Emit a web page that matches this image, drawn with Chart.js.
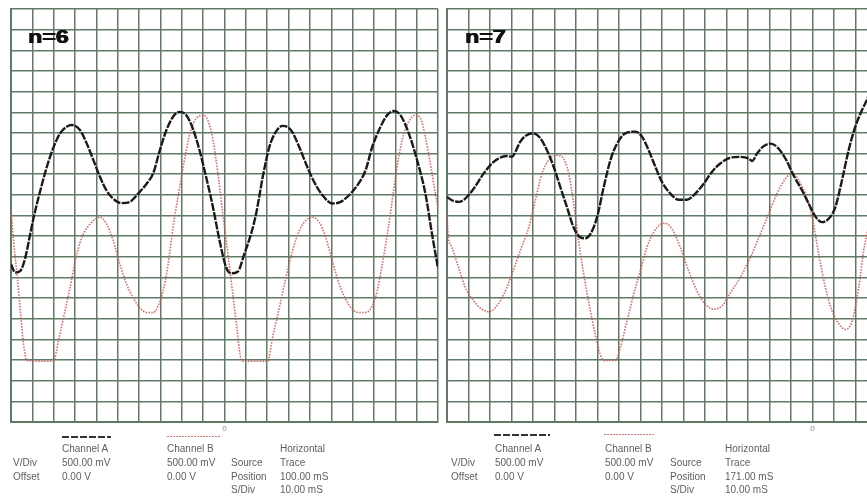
<!DOCTYPE html>
<html>
<head>
<meta charset="utf-8">
<script src="https://cdn.jsdelivr.net/npm/chart.js@4.4.1/dist/chart.umd.min.js"></script>
<style>
  html, body { margin: 0; padding: 0; background: #fff; }
  body { width: 867px; height: 503px; overflow: hidden; position: relative;
         font-family: "Liberation Sans", Arial, sans-serif; }
  canvas { position: absolute; top: 0; }
  .tag { position: absolute; font-weight: bold; font-size: 19px; line-height: 19px; color: #111;
         text-shadow: 0.6px 0 0 #111, -0.3px 0 0 #111;
         transform: scaleX(1.22); transform-origin: 0 0; white-space: nowrap; }
  .info { position: absolute; font-size: 10px; line-height: 10px; color: #5e5e5e; white-space: nowrap; }
  .keyA { position: absolute; height: 2px;
          background: repeating-linear-gradient(to right, #333 0 7px, transparent 7px 9px); }
  .keyB { position: absolute; height: 1px;
          background: repeating-linear-gradient(to right, #d77 0 2px, transparent 2px 3px); }
</style>
</head>
<body>
<canvas id="scope6" width="446" height="440" style="left:0"></canvas>
<canvas id="scope7" width="446" height="440" style="left:436px"></canvas>

<div class="tag" style="left:28px;top:27px">n=6</div>
<div class="tag" style="left:465px;top:27px">n=7</div>

<!-- settings block, n=6 capture -->
<div class="keyA" style="left:62px;top:436px;width:49px"></div>
<div class="keyB" style="left:167px;top:436px;width:54px"></div>
<span class="info" style="left:62px;top:444px">Channel A</span>
<span class="info" style="left:167px;top:444px">Channel B</span>
<span class="info" style="left:280px;top:444px">Horizontal</span>
<span class="info" style="left:13px;top:458px">V/Div</span>
<span class="info" style="left:62px;top:458px">500.00 mV</span>
<span class="info" style="left:167px;top:458px">500.00 mV</span>
<span class="info" style="left:231px;top:458px">Source</span>
<span class="info" style="left:280px;top:458px">Trace</span>
<span class="info" style="left:13px;top:472px">Offset</span>
<span class="info" style="left:62px;top:472px">0.00 V</span>
<span class="info" style="left:167px;top:472px">0.00 V</span>
<span class="info" style="left:231px;top:472px">Position</span>
<span class="info" style="left:280px;top:472px">100.00 mS</span>
<span class="info" style="left:231px;top:485px">S/Div</span>
<span class="info" style="left:280px;top:485px">10.00 mS</span>

<!-- settings block, n=7 capture -->
<div class="keyA" style="left:494px;top:434px;width:56px"></div>
<div class="keyB" style="left:604px;top:434px;width:50px"></div>
<span class="info" style="left:495px;top:444px">Channel A</span>
<span class="info" style="left:605px;top:444px">Channel B</span>
<span class="info" style="left:725px;top:444px">Horizontal</span>
<span class="info" style="left:451px;top:458px">V/Div</span>
<span class="info" style="left:495px;top:458px">500.00 mV</span>
<span class="info" style="left:605px;top:458px">500.00 mV</span>
<span class="info" style="left:670px;top:458px">Source</span>
<span class="info" style="left:725px;top:458px">Trace</span>
<span class="info" style="left:451px;top:472px">Offset</span>
<span class="info" style="left:495px;top:472px">0.00 V</span>
<span class="info" style="left:605px;top:472px">0.00 V</span>
<span class="info" style="left:670px;top:472px">Position</span>
<span class="info" style="left:725px;top:472px">171.00 mS</span>
<span class="info" style="left:670px;top:485px">S/Div</span>
<span class="info" style="left:725px;top:485px">10.00 mS</span>

<script>
// Times in ms relative to the trigger marker "0", amplitudes in volts (500 mV/div, 0 V offset).

// n=6 capture, 100 ms position
const t6A = [-100,-98,-95.6,-93.3,-91,-89.4,-86.3,-83.2,-80.1,-77,-73.9,-71.5,-67.7,-64.5,-61.4,-58.3,-55.2,-51.3,-48.2,-44.3,-40.4,-36.5,-33.4,-30.3,-27.2,-24.1,-21,-17.9,-14.8,-11.7,-8.6,-5.4,-2.3,0.8,3.1,6.2,9.3,12.4,14.8,17.9,21,24.1,27.2,31.1,35,38.1,42,45.9,50.5,54.4,58.3,62.2,66.1,69.2,73.1,76.2,79.3,82.4,86.3,90.2,94.1,97.2,100];
const v6A = [-1.18,-1.38,-1.34,-1.02,-0.45,-0.05,0.6,1.18,1.65,1.99,2.15,2.19,2.07,1.74,1.34,0.93,0.6,0.37,0.3,0.33,0.53,0.77,1.02,1.58,2.07,2.39,2.51,2.43,2.1,1.58,0.93,0.2,-0.61,-1.26,-1.4,-1.36,-0.93,-0.45,0.04,0.93,1.66,2.03,2.17,2.07,1.66,1.26,0.81,0.49,0.29,0.33,0.49,0.73,1.1,1.66,2.15,2.43,2.53,2.43,1.99,1.34,0.53,-0.45,-1.28];
const t6B = [-100,-98.8,-97.2,-95.6,-94.1,-92.5,-80.1,-77.8,-75.4,-72.3,-69.2,-66.1,-63,-58.3,-55.2,-52.1,-49,-45.9,-42.8,-39.7,-36.5,-33.4,-31.1,-28.8,-26.4,-24.1,-21,-17.9,-15.6,-13.2,-10.1,-7.8,-5.4,-3.1,-0.8,1.6,3.9,5.8,7.3,8.6,20.2,22.5,25.7,28.8,31.9,35,38.1,41.2,44.3,47.4,50.5,53.7,56.8,59.9,63,66.1,69.2,71.5,73.9,77,80.1,83.2,86.3,89.4,91.8,94.1,96.4,98.8,100];
const v6B = [0.12,-0.61,-1.42,-2.31,-3.12,-3.51,-3.53,-3.04,-2.47,-1.74,-0.93,-0.45,-0.21,-0.04,-0.21,-0.61,-1.18,-1.66,-1.99,-2.23,-2.35,-2.35,-2.19,-1.83,-1.18,-0.29,0.69,1.58,2.1,2.35,2.43,2.31,1.83,1.02,0.04,-0.93,-1.91,-2.72,-3.37,-3.53,-3.53,-2.96,-2.23,-1.5,-0.85,-0.37,-0.12,-0.04,-0.16,-0.53,-1.1,-1.66,-2.03,-2.27,-2.35,-2.35,-2.19,-1.83,-1.18,-0.21,0.93,1.83,2.27,2.43,2.35,1.91,1.26,0.53,0.2];

// n=7 capture, 171 ms position
const t7A = [-170,-167.7,-164.6,-161.5,-157.6,-152.9,-148.3,-144.4,-142.1,-139.8,-138.2,-135.9,-132.8,-130,-126.6,-123.5,-120.4,-117.3,-114.2,-111.1,-108,-105.7,-103.3,-100.2,-97.1,-94,-90.9,-87.1,-82.4,-79.3,-76.2,-73.1,-70,-66.1,-62.2,-58.4,-54.5,-50.6,-46.7,-42.9,-38.2,-33.6,-29.7,-28.1,-25.8,-22.7,-19.6,-16.5,-12.6,-8.8,-4.9,-1.8,1.3,4.4,7.5,10.6,13.7,16.8,19.9,23,25.3,28];
const v7A = [0.45,0.37,0.33,0.41,0.65,1.02,1.3,1.42,1.44,1.42,1.54,1.79,1.95,1.99,1.87,1.58,1.18,0.69,0.2,-0.29,-0.53,-0.55,-0.45,-0.04,0.69,1.34,1.74,1.99,2.03,1.91,1.58,1.18,0.81,0.53,0.38,0.38,0.53,0.77,1.06,1.26,1.4,1.42,1.38,1.32,1.5,1.68,1.74,1.66,1.38,0.97,0.61,0.29,-0.02,-0.16,-0.08,0.2,0.85,1.58,2.15,2.55,2.8,3.15];
const t7B = [-170,-169.5,-167.7,-164.6,-161.5,-157.6,-153.7,-150.6,-147.5,-143.6,-139.8,-135.9,-132,-128.9,-125.8,-122.7,-119.6,-116.5,-113.4,-111.1,-108.8,-106.4,-103.3,-101,-98.7,-97.1,-91.7,-89.4,-86.3,-83.2,-80.1,-77,-73.9,-70.8,-68.4,-65.3,-61.5,-57.6,-53.7,-49.8,-46,-42.1,-38.2,-33.6,-28.9,-24.3,-20.4,-16.5,-12.6,-9.5,-6.4,-3.3,-0.2,2.9,6,9.1,12.2,15.3,18.4,21.5,23.8,25.3,28];
const v7B = [0.05,-0.45,-0.77,-1.26,-1.74,-2.07,-2.27,-2.33,-2.23,-1.91,-1.42,-0.85,-0.29,0.37,1.02,1.34,1.46,1.42,1.02,0.29,-0.61,-1.42,-2.31,-2.88,-3.37,-3.51,-3.51,-3.2,-2.56,-1.91,-1.34,-0.77,-0.41,-0.22,-0.19,-0.33,-0.77,-1.34,-1.83,-2.15,-2.27,-2.19,-1.87,-1.5,-1.02,-0.45,0.04,0.53,0.89,1.02,0.85,0.53,-0.04,-0.93,-1.74,-2.31,-2.62,-2.76,-2.56,-1.74,-0.85,-0.45,0.3];

// screen window: 20 horizontal divisions of 10 ms, 20 vertical divisions of 0.5 V
const window6 = [-100, 100];
const window7 = [-170, 30];
const voltWindow = [-5, 5];
const msPerDiv = 10;
const voltPerDiv = 0.5;

const GRID = '#5f7a66';

function toPoints(t, v) {
  return t.map((x, i) => ({ x: x, y: v[i] }));
}

function drawScope(id, tA, vA, tB, vB, win, padRight) {
  new Chart(document.getElementById(id), {
    type: 'scatter',
    data: {
      datasets: [
        {
          label: 'Channel A',
          data: toPoints(tA, vA),
          showLine: true,
          borderColor: '#1a1a1a',
          borderWidth: 2.4,
          borderDash: [8, 1.3],
          pointRadius: 0,
          cubicInterpolationMode: 'monotone'
        },
        {
          label: 'Channel B',
          data: toPoints(tB, vB),
          showLine: true,
          borderColor: 'rgba(210, 85, 85, 0.85)',
          borderWidth: 1.6,
          borderDash: [1.6, 1.3],
          pointRadius: 0,
          cubicInterpolationMode: 'monotone'
        }
      ]
    },
    options: {
      responsive: false,
      animation: false,
      devicePixelRatio: 1,
      layout: { padding: { left: 11, top: 9, right: padRight, bottom: 4 } },
      plugins: { legend: { display: false }, tooltip: { enabled: false } },
      scales: {
        x: {
          type: 'linear',
          min: win[0],
          max: win[1],
          afterFit: s => { s.height = 14; },
          ticks: {
            stepSize: msPerDiv,
            autoSkip: false,
            maxRotation: 0,
            padding: 2,
            color: '#888',
            font: { size: 8, family: 'Liberation Sans' },
            callback: v => (Math.abs(v) < 1e-6 ? '0' : '')
          },
          grid: { color: GRID, lineWidth: 1.5, drawTicks: false },
          border: { display: true, color: GRID, width: 2 }
        },
        y: {
          type: 'linear',
          min: voltWindow[0],
          max: voltWindow[1],
          afterFit: s => { s.width = 0; },
          ticks: { display: false, stepSize: voltPerDiv },
          grid: { color: GRID, lineWidth: 1.5, drawTicks: false },
          border: { display: true, color: GRID, width: 2 }
        }
      }
    }
  });
}

drawScope('scope6', t6A, v6A, t6B, v6B, window6, 8);
drawScope('scope7', t7A, v7A, t7B, v7B, window7, 5);
</script>
</body>
</html>
